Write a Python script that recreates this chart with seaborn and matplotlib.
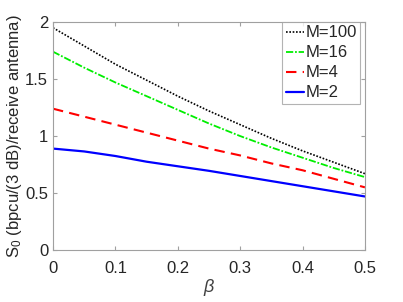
#!/usr/bin/env python3
import matplotlib
matplotlib.use("Agg")
import matplotlib.pyplot as plt
import matplotlib.ticker as mticker
import seaborn as sns
import pandas as pd
import numpy as np

# values
beta = [0.0, 0.05, 0.10, 0.15, 0.20, 0.25, 0.30, 0.35, 0.40, 0.45, 0.50]
s0_m100 = [1.95, 1.79, 1.63, 1.49, 1.35, 1.22, 1.10, 0.98, 0.87, 0.77, 0.67]
s0_m16 = [1.74, 1.60, 1.47, 1.35, 1.23, 1.11, 1.00, 0.90, 0.81, 0.72, 0.64]
s0_m4 = [1.24, 1.17, 1.10, 1.03, 0.96, 0.89, 0.83, 0.76, 0.70, 0.625, 0.55]
s0_m2 = [0.89, 0.865, 0.825, 0.775, 0.735, 0.695, 0.65, 0.605, 0.56, 0.515, 0.47]

series = [
    ("M=100", s0_m100, "black", (0, (1, 1)), 1.2),
    ("M=16", s0_m16, "#00ee00", (0, (4, 1, 1, 1)), 1.3),
    ("M=4", s0_m4, "#ff0000", (0, (5, 3)), 1.5),
    ("M=2", s0_m2, "#0000ff", "-", 1.6),
]

sns.set_style("white")
plt.rcParams["font.family"] = ["Liberation Sans", "DejaVu Sans"]
plt.rcParams["mathtext.default"] = "regular"
plt.rcParams["font.size"] = 12

fig = plt.figure(figsize=(4.03, 3.02), dpi=100)
ax = fig.add_axes([0.1315, 0.172, 0.774, 0.755])

for label, vals, color, ls, lw in series:
    df = pd.DataFrame({"beta": beta, "S0": vals})
    sns.lineplot(data=df, x="beta", y="S0", ax=ax, color=color,
                 linestyle=ls, linewidth=lw, label=label)

ax.set_xlim(0, 0.5)
ax.set_ylim(0, 2)
ax.set_xticks([0, 0.1, 0.2, 0.3, 0.4, 0.5])
ax.set_yticks([0, 0.5, 1, 1.5, 2])
fmt = mticker.FuncFormatter(lambda v, p: "%g" % v)
ax.xaxis.set_major_formatter(fmt)
ax.yaxis.set_major_formatter(fmt)

for sp in ax.spines.values():
    sp.set_visible(True)
    sp.set_color("#a0a0a0")
    sp.set_linewidth(0.8)
ax.tick_params(direction="in", length=3, width=0.8, color="#a0a0a0",
               labelcolor="#262626", labelsize=12,
               top=True, right=True, bottom=True, left=True)
ax.tick_params(axis="x", pad=8)

ax.set_xlabel("β", fontsize=13, fontstyle="italic", color="#404040",
              labelpad=2)
ax.set_ylabel("S$_0$ (bpcu/(3 dB)/receive antenna)", fontsize=12,
              color="#262626", labelpad=1)

leg = ax.legend(loc="upper right", bbox_to_anchor=(0.985, 1.0), fontsize=12,
                frameon=True, fancybox=False, handlelength=1.1,
                handletextpad=0.1, labelspacing=0.3, borderpad=0.2,
                borderaxespad=0.0)
leg.get_frame().set_edgecolor("#a0a0a0")
leg.get_frame().set_linewidth(0.8)

fig.savefig("out.png", dpi=100)
